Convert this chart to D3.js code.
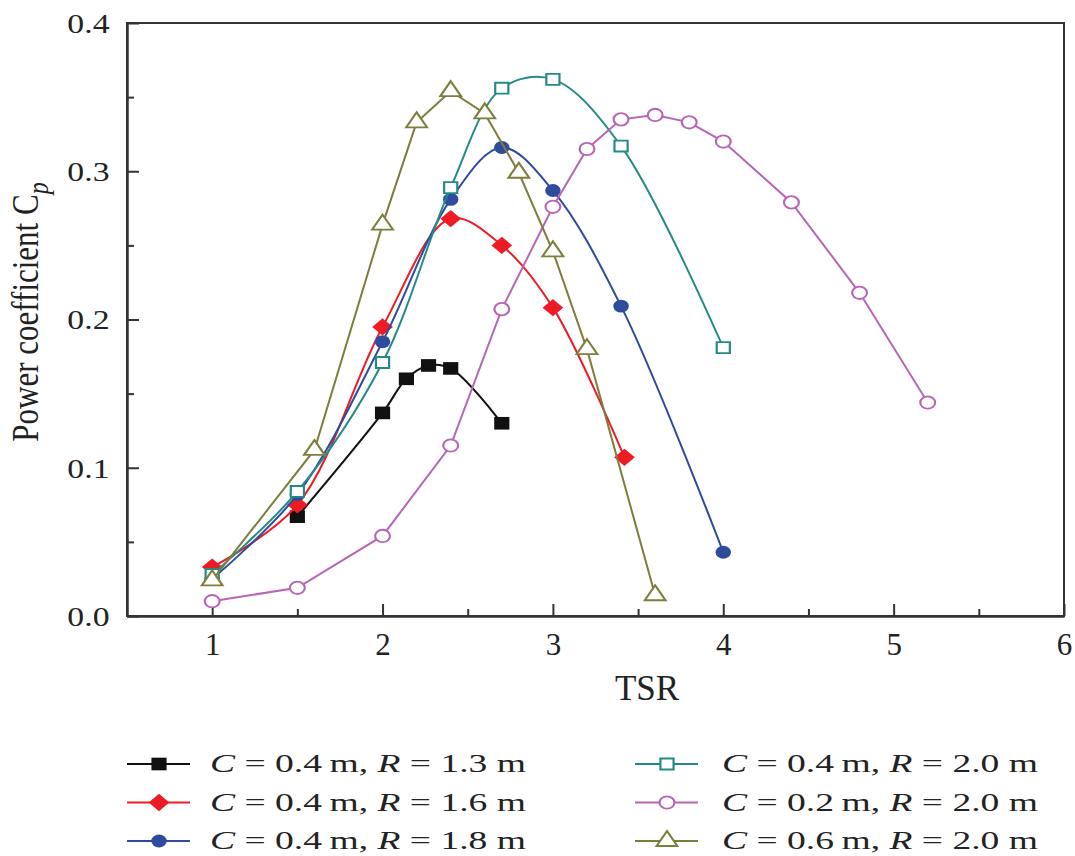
<!DOCTYPE html>
<html>
<head>
<meta charset="utf-8">
<script src="https://cdn.jsdelivr.net/npm/d3@7"></script>
<style>
  body { margin: 0; background: #fff; }
  svg text { font-family: "Liberation Serif", "Times New Roman", Tinos, Times, serif; fill: #222; }
</style>
</head>
<body>
<svg id="chart" width="1075" height="856"></svg>
<script>
// data
const xTicks = [1, 2, 3, 4, 5, 6];
const yTicks = [0.0, 0.1, 0.2, 0.3, 0.4];

const tsrA = [1.5, 2.0, 2.14, 2.27, 2.4, 2.7];
const cpA  = [0.067, 0.137, 0.160, 0.169, 0.167, 0.130];

const tsrB = [1.0, 1.5, 2.0, 2.4, 2.7, 3.0, 3.42];
const cpB  = [0.033, 0.075, 0.195, 0.268, 0.250, 0.208, 0.107];

const tsrC = [1.0, 1.5, 2.0, 2.4, 2.7, 3.0, 3.4, 4.0];
const cpC  = [0.025, 0.082, 0.185, 0.281, 0.316, 0.287, 0.209, 0.043];

const tsrD = [1.0, 1.5, 2.0, 2.4, 2.7, 3.0, 3.4, 4.0];
const cpD  = [0.028, 0.084, 0.171, 0.289, 0.356, 0.362, 0.317, 0.181];

const tsrE = [1.0, 1.5, 2.0, 2.4, 2.7, 3.0, 3.2, 3.4, 3.6, 3.8, 4.0, 4.4, 4.8, 5.2];
const cpE  = [0.010, 0.019, 0.054, 0.115, 0.207, 0.276, 0.315, 0.335, 0.338, 0.333, 0.320, 0.279, 0.218, 0.144];

const tsrF = [1.0, 1.6, 2.0, 2.2, 2.4, 2.6, 2.8, 3.0, 3.2, 3.6];
const cpF  = [0.024, 0.112, 0.264, 0.333, 0.354, 0.339, 0.299, 0.246, 0.180, 0.014];

const labelsC = ["0.4", "0.4", "0.4", "0.4", "0.2", "0.6"];
const labelsR = ["1.3", "1.6", "1.8", "2.0", "2.0", "2.0"];

const series = [
  {x: tsrA, y: cpA, color: "#111111", sym: d3.symbolSquare,   size: 160, fill: true,  curve: d3.curveCatmullRom},
  {x: tsrB, y: cpB, color: "#ed1c24", sym: d3.symbolDiamond2, size: 190, fill: true,  curve: d3.curveCatmullRom},
  {x: tsrC, y: cpC, color: "#2e4b9d", sym: d3.symbolCircle,   size: 130, fill: true,  curve: d3.curveCatmullRom},
  {x: tsrD, y: cpD, color: "#248a86", sym: d3.symbolSquare,   size: 120, fill: false, curve: d3.curveCatmullRom},
  {x: tsrE, y: cpE, color: "#b765b6", sym: d3.symbolCircle,   size: 120, fill: false, curve: d3.curveLinear},
  {x: tsrF, y: cpF, color: "#7d7e3c", sym: d3.symbolTriangle, size: 130, fill: false, curve: d3.curveLinear}
];

const serif = "'Liberation Serif', 'Times New Roman', Tinos, Times, serif";

const svg    = d3.select("#chart"),
      margin = {top: 23, right: 11, bottom: 240, left: 127},
      width  = +svg.attr("width")  - margin.left - margin.right,
      height = +svg.attr("height") - margin.top  - margin.bottom,
      x      = d3.scaleLinear().domain([0.5, 6]).range([0, width]),
      y      = d3.scaleLinear().domain([0, 0.4]).range([height, 0]),
      g      = svg.append("g")
                  .attr("transform", `translate(${margin.left},${margin.top})`);

// frame
g.append("rect")
  .attr("width", width).attr("height", height)
  .attr("fill", "none").attr("stroke", "#333").attr("stroke-width", 2);

// minor ticks
g.append("g")
  .attr("transform", `translate(0,${height})`)
  .call(d3.axisBottom(x).tickValues([1.5, 2.5, 3.5, 4.5, 5.5]).tickSize(-7).tickSizeOuter(0).tickFormat(""));
g.append("g")
  .call(d3.axisLeft(y).tickValues([0.05, 0.15, 0.25, 0.35]).tickSize(-7).tickSizeOuter(0).tickFormat(""));

// major ticks
const xAxis = g.append("g")
  .attr("transform", `translate(0,${height})`)
  .call(d3.axisBottom(x).tickValues(xTicks).tickSize(-12).tickSizeOuter(0).tickFormat(d3.format("d")));
const yAxis = g.append("g")
  .call(d3.axisLeft(y).tickValues(yTicks).tickSize(-12).tickSizeOuter(0).tickFormat(d3.format(".1f")));

g.selectAll(".domain").attr("stroke", "#333").attr("stroke-width", 2);
g.selectAll(".tick line").attr("stroke", "#333").attr("stroke-width", 2);

xAxis.selectAll(".tick text")
  .attr("y", 17).attr("dy", "0.71em")
  .style("font-family", serif)
  .style("font-size", "31px").attr("fill", "#222");
yAxis.selectAll(".tick text")
  .attr("dy", "0.35em")
  .style("font-family", serif)
  .style("font-size", "27px").attr("fill", "#222")
  .attr("transform", "scale(1.25,1)")
  .attr("x", -14);

// lines and markers
series.forEach(s => {
  const pts = s.x.map((v, i) => [v, s.y[i]]);
  g.append("path")
    .datum(pts)
    .attr("fill", "none")
    .attr("stroke", s.color)
    .attr("stroke-width", 2)
    .attr("d", d3.line().x(d => x(d[0])).y(d => y(d[1])).curve(s.curve));

  g.selectAll(null)
    .data(pts)
    .enter().append("path")
      .attr("d", d3.symbol().type(s.sym).size(s.size))
      .attr("transform", d => `translate(${x(d[0])},${y(d[1])}) scale(1.2,1)`)
      .attr("fill", s.fill ? s.color : "#fff")
      .attr("stroke", s.color)
      .attr("stroke-width", s.fill ? 0 : 2 / 1.1);
});

// axis titles
svg.append("text")
  .attr("x", 647).attr("y", 700)
  .attr("text-anchor", "middle")
  .style("font-family", serif)
  .style("font-size", "35px")
  .text("TSR");

const yt = svg.append("text")
  .attr("transform", "translate(38,312) rotate(-90) scale(1,1.2)")
  .attr("text-anchor", "middle")
  .style("font-family", serif)
  .style("font-size", "31px");
yt.append("tspan").text("Power coefficient C");
yt.append("tspan").attr("dy", 8).style("font-style", "italic").style("font-size", "24px").text("p");

// legend
series.forEach((s, i) => {
  const col = i < 3 ? 0 : 1,
        row = i % 3,
        lx  = col === 0 ? 127 : 635,
        ly  = 764 + row * 38.5,
        lg  = svg.append("g").attr("transform", `translate(${lx},${ly})`);

  lg.append("line")
    .attr("x1", 0).attr("x2", 63)
    .attr("stroke", s.color).attr("stroke-width", 2);
  lg.append("path")
    .attr("d", d3.symbol().type(s.sym).size(s.size))
    .attr("transform", "translate(32,0) scale(1.2,1)")
    .attr("fill", s.fill ? s.color : "#fff")
    .attr("stroke", s.color)
    .attr("stroke-width", s.fill ? 0 : 2 / 1.1);

  const t = lg.append("text")
    .attr("x", col === 0 ? 83 : 87).attr("y", 8)
    .style("font-family", serif)
    .style("font-size", "26px")
    .attr("textLength", 316).attr("lengthAdjust", "spacingAndGlyphs");
  t.append("tspan").style("font-style", "italic").text("C");
  t.append("tspan").text(` = ${labelsC[i]}\u2009m, `);
  t.append("tspan").style("font-style", "italic").text("R");
  t.append("tspan").text(` = ${labelsR[i]} m`);
});
</script>
</body>
</html>
